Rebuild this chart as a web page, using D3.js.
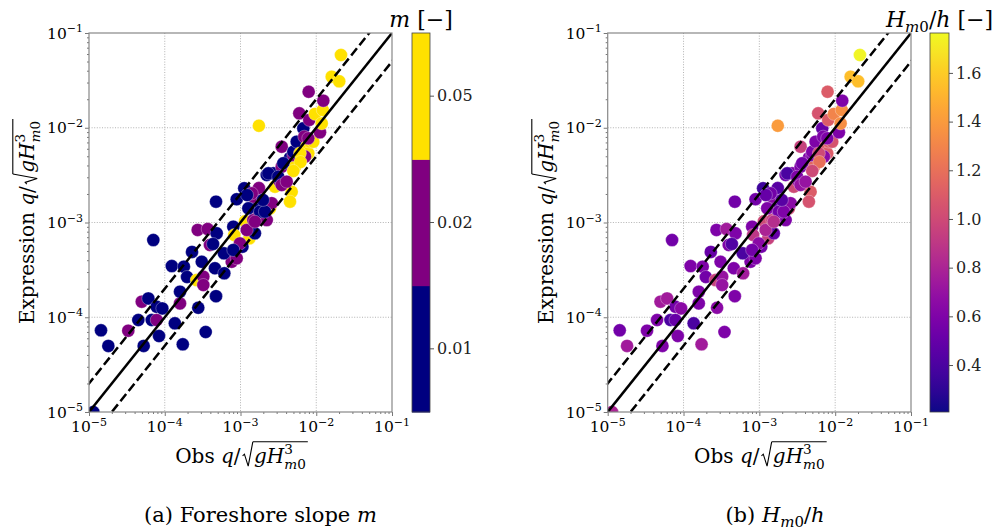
<!DOCTYPE html>
<html><head><meta charset="utf-8">
<script src="https://cdn.jsdelivr.net/npm/d3@7"></script>
<style>body{margin:0;background:#fff} svg{display:block;font-family:"DejaVu Serif",serif}</style>
</head><body><svg id="c" width="1002" height="532"></svg>
<script>
// ---- data ----
const obsQ = [1.14e-5,1.44e-5,1.80e-5,3.30e-5,4.48e-5,4.97e-5,5.27e-5,6.07e-5,6.73e-5,7.83e-5,
7.83e-5,9.29e-5,8.40e-5,1.36e-4,1.73e-4,1.59e-4,2.77e-4,3.47e-4,1.59e-4,1.24e-4,
1.79e-4,1.97e-4,2.29e-4,2.64e-4,3.23e-4,3.23e-4,3.08e-4,4.60e-4,6.11e-4,4.75e-4,
7.66e-4,7.06e-5,4.75e-4,2.72e-4,3.69e-4,3.95e-4,4.85e-4,4.34e-4,6.05e-4,8.03e-4,
8.28e-4,1.15e-3,1.31e-3,8.91e-4,1.06e-3,9.84e-4,1.55e-3,1.21e-3,1.48e-3,2.22e-3,
1.64e-3,1.64e-3,1.48e-3,1.12e-3,8.91e-4,1.75e-3,1.41e-3,1.27e-3,1.81e-3,1.55e-3,
2.45e-3,2.58e-3,2.85e-3,2.22e-3,2.71e-3,3.50e-3,4.50e-3,4.74e-3,4.50e-3,3.32e-3,
5.24e-3,7.10e-3,4.98e-3,2.33e-3,3.15e-3,3.50e-3,3.67e-3,3.50e-3,4.98e-3,5.52e-3,
6.75e-3,6.95e-3,7.48e-3,7.85e-3,7.10e-3,8.26e-3,9.14e-3,5.97e-3,8.09e-3,7.85e-3,
9.62e-3,1.12e-2,1.18e-2,1.22e-2,1.24e-2,7.94e-3,1.75e-3,1.60e-2,2.01e-2,2.12e-2,
6.09e-3,6.19e-3,4.98e-3,4.07e-3,2.10e-3,8.03e-4,1.22e-3,1.98e-3];
const expQ = [1.00e-5,7.28e-5,4.98e-5,7.21e-5,9.35e-5,1.46e-4,4.98e-5,1.58e-4,9.35e-5,9.35e-5,
1.29e-4,1.24e-4,6.34e-5,8.63e-5,5.18e-5,1.40e-4,1.26e-4,6.99e-5,1.86e-4,3.47e-4,
3.42e-4,2.66e-4,4.89e-4,2.47e-4,2.68e-4,2.19e-4,3.85e-4,3.29e-4,2.91e-4,1.67e-4,
3.85e-4,6.53e-4,1.66e-3,8.34e-4,8.53e-4,5.79e-4,7.69e-4,5.93e-4,4.73e-4,9.03e-4,
7.38e-4,1.03e-3,6.81e-4,4.19e-4,5.56e-4,6.02e-4,7.69e-4,8.34e-4,1.06e-3,1.06e-3,
1.41e-3,1.60e-3,1.87e-3,2.30e-3,1.76e-3,2.31e-3,2.03e-3,1.41e-3,1.30e-3,1.02e-3,
1.41e-3,1.60e-3,2.39e-3,3.17e-3,3.30e-3,3.88e-3,4.80e-3,2.11e-3,1.66e-3,2.70e-3,
3.86e-3,5.37e-3,5.15e-3,3.30e-3,3.04e-3,2.49e-3,4.22e-3,6.31e-3,5.58e-3,7.13e-3,
9.86e-3,8.05e-3,6.31e-3,5.37e-3,4.96e-3,7.13e-3,7.13e-3,1.42e-2,1.21e-2,7.74e-3,
1.40e-2,8.95e-3,1.11e-2,1.54e-2,1.93e-2,2.40e-2,1.05e-2,3.46e-2,3.09e-2,5.86e-2,
5.37e-3,4.35e-3,3.50e-3,2.70e-3,1.30e-3,5.13e-4,1.95e-3,1.73e-3];
const slopeM = [0.01,0.01,0.01,0.02,0.01,0.02,0.01,0.01,0.01,0.02,
0.01,0.01,0.01,0.01,0.01,0.02,0.01,0.01,0.01,0.01,
0.01,0.01,0.01,0.05,0.02,0.02,0.01,0.01,0.01,0.01,
0.02,0.01,0.01,0.02,0.02,0.02,0.01,0.01,0.01,0.01,
0.05,0.05,0.05,0.02,0.01,0.02,0.01,0.02,0.02,0.02,
0.02,0.01,0.02,0.01,0.01,0.02,0.02,0.01,0.01,0.02,
0.05,0.02,0.05,0.01,0.01,0.02,0.01,0.05,0.05,0.02,
0.05,0.05,0.02,0.01,0.01,0.02,0.01,0.02,0.01,0.01,
0.01,0.02,0.05,0.05,0.02,0.05,0.05,0.02,0.02,0.02,
0.05,0.02,0.05,0.05,0.02,0.02,0.05,0.05,0.05,0.05,
0.05,0.05,0.05,0.02,0.01,0.01,0.01,0.01];
const hRatio = [0.80,0.55,0.75,0.60,0.60,0.75,0.60,0.75,0.40,0.50,
0.55,0.65,0.60,0.40,0.75,0.60,0.65,0.60,0.60,0.60,
0.60,0.55,0.50,0.95,0.70,0.70,0.60,0.60,0.75,0.60,
0.60,0.55,0.55,0.60,0.75,0.60,0.60,0.42,0.40,0.60,
0.90,1.00,0.95,0.60,0.55,0.65,0.50,0.80,0.95,0.60,
0.60,0.50,0.65,0.35,0.55,0.45,0.55,0.60,0.55,0.85,
1.00,0.65,1.00,0.55,0.60,0.60,0.60,1.10,1.05,0.65,
1.15,1.10,0.60,0.40,0.60,0.70,0.55,0.95,0.60,0.60,
0.50,0.60,1.10,1.10,0.65,1.10,1.05,1.05,1.10,0.60,
1.30,0.60,1.35,1.35,0.60,1.10,1.40,1.55,1.55,1.75,
1.00,1.20,1.00,0.70,0.60,0.55,0.50,0.45];
const decadeTicks = [1e-5,1e-4,1e-3,1e-2,1e-1];
const decadeExp = ["5","4","3","2","1"];
const slopeLevels = [0.01,0.02,0.05];
const slopeColors = ["#000080","#800080","#ffe100"];
const hTicks = [0.4,0.6,0.8,1.0,1.2,1.4,1.6];
const hDomain = [0.207,1.764];
const lineFactors = [1,2,0.5];

// ---- drawing ----
const svg = d3.select("#c");
const TOP = 33, BOT = 412;
const panels = [
  {L:89, R:392, cbL:412, cbR:430, ylabX:34},
  {L:607.7, R:911, cbL:930, cbR:949, ylabX:553}
];
const hColor = d3.scaleSequential(d3.interpolatePlasma).domain(hDomain);
const mColor = d3.scaleOrdinal().domain(slopeLevels).range(slopeColors);

function mathLayout(g, parts, base) {
  let x = 0, markX = 0, savedX = 0, radStart = 0;
  for (const p of parts) {
    if (p.rad) {
      const b = base;
      g.append("path").attr("fill","none").attr("stroke","#000").attr("stroke-width",1.1)
        .attr("d",`M${x+1},${-0.36*b} L${x+0.14*b},${-0.44*b} L${x+0.33*b},${0.16*b} L${x+0.56*b},${-1.06*b}`);
      radStart = x + 0.56*b; x = radStart + 0.06*b; continue;
    }
    if (p.radEnd) {
      g.append("line").attr("stroke","#000").attr("stroke-width",1.1)
        .attr("x1",radStart).attr("x2",x+2).attr("y1",-1.06*base).attr("y2",-1.06*base);
      continue;
    }
    if (p.mark) { markX = x; continue; }
    if (p.back) { savedX = x; x = markX; continue; }
    if (p.join) { x = Math.max(x, savedX); continue; }
    const fs = (p.sc||1)*base;
    const t = g.append("text").attr("x",x).attr("y",(p.dy||0)*base)
      .attr("font-size",fs).attr("font-style",p.it?"italic":"normal").text(p.t);
    x += t.node().getComputedTextLength() + (p.kern||0)*base;
  }
  return x;
}
function qExpr(prefix) {
  return [{t:prefix,kern:0.32},{t:"q",it:true},{t:"/",kern:0.05},{rad:true},{t:"g",it:true},{t:"H",it:true},
    {mark:true},{t:"3",sc:0.68,dy:-0.46},{back:true},{t:"m",it:true,sc:0.68,dy:0.3},{t:"0",sc:0.68,dy:0.3},{join:true},{radEnd:true}];
}

panels.forEach((P, i) => {
  const x = d3.scaleLog().domain([1e-5,1e-1]).range([P.L,P.R]);
  const y = d3.scaleLog().domain([1e-5,1e-1]).range([BOT,TOP]);
  const g = svg.append("g");
  const clipId = "clip"+i;
  svg.append("clipPath").attr("id",clipId).append("rect")
    .attr("x",P.L).attr("y",TOP).attr("width",P.R-P.L).attr("height",BOT-TOP);

  // grid
  const inner = decadeTicks.slice(1,4);
  g.selectAll(".gx").data(inner).join("line").attr("x1",d=>x(d)).attr("x2",d=>x(d))
    .attr("y1",TOP).attr("y2",BOT).attr("stroke","#a0a0a0").attr("stroke-width",0.8).attr("stroke-dasharray","1,1.6");
  g.selectAll(".gy").data(inner).join("line").attr("y1",d=>y(d)).attr("y2",d=>y(d))
    .attr("x1",P.L).attr("x2",P.R).attr("stroke","#a0a0a0").attr("stroke-width",0.8).attr("stroke-dasharray","1,1.6");

  // points
  const pts = obsQ.map((o,k)=>({o, e:expQ[k], m:slopeM[k], h:hRatio[k]}));
  g.append("g").attr("clip-path",`url(#${clipId})`).selectAll("circle").data(pts).join("circle")
    .attr("cx",d=>x(d.o)).attr("cy",d=>y(d.e)).attr("r",6.5)
    .attr("fill",d=> i===0 ? mColor(d.m) : hColor(d.h))
    .attr("stroke","#fff").attr("stroke-width",0.3);

  // reference lines
  const lg = g.append("g").attr("clip-path",`url(#${clipId})`);
  lineFactors.forEach((f,k)=>{
    lg.append("line").attr("x1",x(1e-6)).attr("y1",y(1e-6*f)).attr("x2",x(1)).attr("y2",y(1*f))
      .attr("stroke","#000").attr("stroke-width",2.5)
      .attr("stroke-dasharray", k===0 ? null : "9.2,4");
  });

  // axes ticks
  const minor = [];
  for (let e=-5;e<-1;e++) for (let m=2;m<10;m++) minor.push(m*Math.pow(10,e));
  const ax = g.append("g").attr("transform",`translate(0,${BOT})`)
    .call(d3.axisBottom(x).tickValues(decadeTicks).tickFormat("").tickSize(4).tickSizeOuter(0));
  const axm = g.append("g").attr("transform",`translate(0,${BOT})`)
    .call(d3.axisBottom(x).tickValues(minor).tickFormat("").tickSize(2).tickSizeOuter(0));
  const ay = g.append("g").attr("transform",`translate(${P.L},0)`)
    .call(d3.axisLeft(y).tickValues(decadeTicks).tickFormat("").tickSize(4).tickSizeOuter(0));
  const aym = g.append("g").attr("transform",`translate(${P.L},0)`)
    .call(d3.axisLeft(y).tickValues(minor).tickFormat("").tickSize(2).tickSizeOuter(0));
  [ax,axm,ay,aym].forEach(a=>{a.select(".domain").remove(); a.selectAll("line").attr("stroke","#555").attr("stroke-width",0.8);});

  // tick labels
  decadeTicks.forEach((d,k)=>{
    const t = g.append("text").attr("x",x(d)).attr("y",BOT+20).attr("text-anchor","middle").attr("font-size",15.5).text("10");
    t.append("tspan").attr("dy",-6.5).attr("font-size",11).text("\u2212"+decadeExp[k]);
    const t2 = g.append("text").attr("x",P.L-6).attr("y",y(d)+5.5).attr("text-anchor","end").attr("font-size",15.5).text("10");
    t2.append("tspan").attr("dy",-6.5).attr("font-size",11).text("\u2212"+decadeExp[k]);
  });

  // frame
  g.append("rect").attr("x",P.L).attr("y",TOP).attr("width",P.R-P.L).attr("height",BOT-TOP)
    .attr("fill","none").attr("stroke","#888").attr("stroke-width",1.2);

  // axis labels
  const xl = g.append("g");
  const wx = mathLayout(xl, qExpr("Obs"), 20);
  xl.attr("transform",`translate(${(P.L+P.R)/2 - wx/2},${463})`);
  const yl = g.append("g");
  const yi = yl.append("g");
  const wy = mathLayout(yi, qExpr("Expression"), 20);
  yi.attr("transform",`translate(${-wy/2},0)`);
  yl.attr("transform",`translate(${P.ylabX},${(TOP+BOT)/2}) rotate(-90)`);

  // colorbar
  const cb = g.append("g");
  const cw = P.cbR - P.cbL;
  if (i===0) {
    const band = d3.scaleBand().domain(slopeLevels).range([BOT,TOP]);
    cb.selectAll("rect").data(slopeLevels).join("rect")
      .attr("x",P.cbL).attr("y",d=>band(d)).attr("width",cw).attr("height",band.bandwidth()+0.5)
      .attr("fill",d=>mColor(d));
    const ay2 = cb.append("g").attr("transform",`translate(${P.cbR},0)`)
      .call(d3.axisRight(band).tickFormat(d=>d.toFixed(2)).tickSize(4).tickPadding(3));
    ay2.select(".domain").remove();
    ay2.selectAll("line").attr("stroke","#555");
    ay2.selectAll("text").attr("font-size",16).attr("font-family","DejaVu Serif").attr("fill","#222");
    const tt = cb.append("text").attr("x",(P.cbL+P.cbR)/2).attr("y",27).attr("text-anchor","middle").attr("font-size",22);
    tt.append("tspan").attr("font-style","italic").text("m");
    tt.append("tspan").text("\u00a0[\u2212]");
  } else {
    const ys = d3.scaleLinear().domain(hDomain).range([BOT,TOP]);
    const grad = svg.append("defs").append("linearGradient").attr("id","plasmaGrad")
      .attr("x1",0).attr("y1",1).attr("x2",0).attr("y2",0);
    d3.range(0,1.0001,0.05).forEach(s=>grad.append("stop").attr("offset",s).attr("stop-color",d3.interpolatePlasma(s)));
    cb.append("rect").attr("x",P.cbL).attr("y",TOP).attr("width",cw).attr("height",BOT-TOP).attr("fill","url(#plasmaGrad)");
    const ay2 = cb.append("g").attr("transform",`translate(${P.cbR},0)`)
      .call(d3.axisRight(ys).tickValues(hTicks).tickFormat(d3.format(".1f")).tickSize(4).tickPadding(3));
    ay2.select(".domain").remove();
    ay2.selectAll("line").attr("stroke","#555");
    ay2.selectAll("text").attr("font-size",16).attr("font-family","DejaVu Serif").attr("fill","#222");
    const tt = cb.append("text").attr("x",(P.cbL+P.cbR)/2).attr("y",27).attr("text-anchor","middle").attr("font-size",22);
    tt.append("tspan").attr("font-style","italic").text("H");
    tt.append("tspan").attr("font-style","italic").attr("font-size",15).attr("dy",5).text("m");
    tt.append("tspan").attr("font-size",15).text("0");
    tt.append("tspan").attr("dy",-5).text("/");
    tt.append("tspan").attr("font-style","italic").text("h");
    tt.append("tspan").text("\u00a0[\u2212]");
  }
  cb.append("rect").attr("x",P.cbL).attr("y",TOP).attr("width",cw).attr("height",BOT-TOP)
    .attr("fill","none").attr("stroke","#444").attr("stroke-width",0.8);
});

// captions
const c1 = svg.append("text").attr("x",260.5).attr("y",522).attr("text-anchor","middle").attr("font-size",21);
c1.append("tspan").text("(a) Foreshore slope\u00a0");
c1.append("tspan").attr("font-style","italic").text("m");
const c2 = svg.append("text").attr("x",775).attr("y",522).attr("text-anchor","middle").attr("font-size",21);
c2.append("tspan").text("(b)\u00a0");
c2.append("tspan").attr("font-style","italic").text("H");
c2.append("tspan").attr("font-style","italic").attr("font-size",15).attr("dy",5).text("m");
c2.append("tspan").attr("font-size",15).text("0");
c2.append("tspan").attr("dy",-5).text("/");
c2.append("tspan").attr("font-style","italic").text("h");
</script></body></html>
